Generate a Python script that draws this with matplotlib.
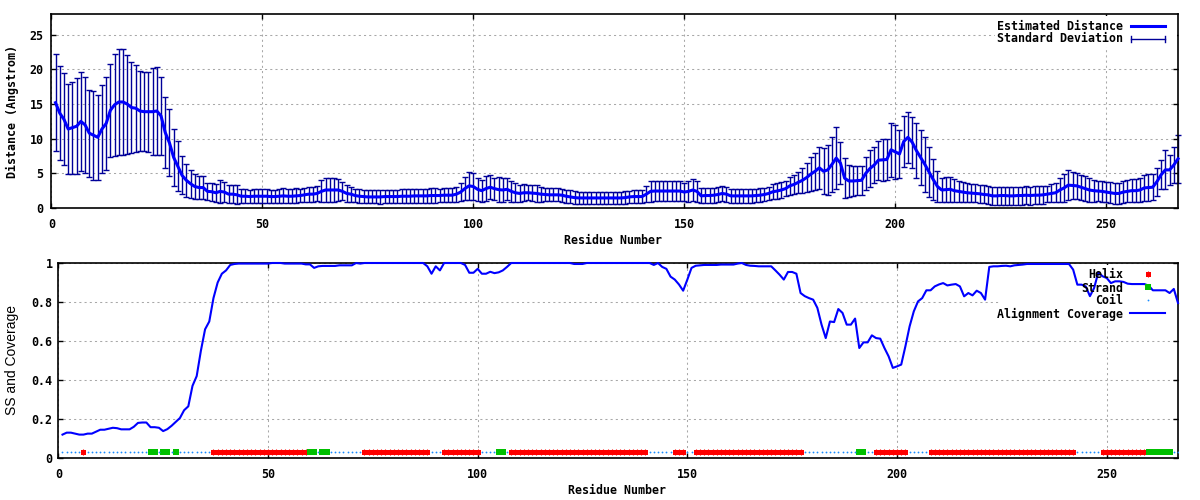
import matplotlib
matplotlib.use("Agg")
import matplotlib.pyplot as plt
from matplotlib.lines import Line2D
from matplotlib.patches import Rectangle

# Datos (residuo 1..267)
residuos = list(range(1, 268))

distancia = [
    15.2, 13.7, 12.8, 11.4, 11.6, 11.8, 12.5, 12.0, 10.8, 10.5,   # 1-10
    10.2, 11.4, 12.2, 14.1, 14.9, 15.3, 15.3, 15.0, 14.5, 14.4,   # 11-20
    14.0, 13.9, 13.9, 13.9, 14.0, 13.3, 10.9, 9.4, 7.3, 6.0,      # 21-30
    4.7, 4.0, 3.5, 3.1, 2.95, 2.95, 2.4, 2.35, 2.2, 2.4,          # 31-40
    2.3, 2.0, 2.0, 1.9, 1.7, 1.7, 1.65, 1.7, 1.7, 1.7,            # 41-50
    1.7, 1.65, 1.65, 1.7, 1.75, 1.7, 1.7, 1.75, 1.8, 1.9,         # 51-60
    2.0, 2.0, 2.1, 2.4, 2.6, 2.6, 2.6, 2.6, 2.4, 2.1,             # 61-70
    2.0, 1.8, 1.7, 1.65, 1.6, 1.6, 1.6, 1.6, 1.65, 1.65,          # 71-80
    1.65, 1.65, 1.7, 1.7, 1.7, 1.75, 1.75, 1.75, 1.75, 1.8,       # 81-90
    1.8, 1.8, 1.85, 1.85, 1.85, 2.0, 2.3, 2.8, 3.2, 3.1,          # 91-100
    2.7, 2.5, 2.8, 3.0, 2.8, 2.65, 2.6, 2.7, 2.4, 2.2,            # 101-110
    2.1, 2.2, 2.2, 2.15, 2.1, 2.0, 1.95, 1.9, 1.9, 1.9,           # 111-120
    1.85, 1.7, 1.6, 1.5, 1.45, 1.45, 1.45, 1.45, 1.45, 1.45,      # 121-130
    1.45, 1.45, 1.45, 1.45, 1.45, 1.5, 1.6, 1.65, 1.65, 1.65,     # 131-140
    2.0, 2.4, 2.45, 2.45, 2.45, 2.45, 2.45, 2.45, 2.45, 2.3,      # 141-150
    2.4, 2.6, 2.4, 1.75, 1.8, 1.8, 1.85, 1.95, 2.1, 2.0,          # 151-160
    1.75, 1.75, 1.75, 1.75, 1.75, 1.75, 1.8, 1.85, 1.95, 2.1,     # 161-170
    2.35, 2.45, 2.6, 2.8, 3.2, 3.4, 3.7, 4.0, 4.4, 4.9,           # 171-180
    5.3, 5.8, 5.3, 5.5, 6.3, 7.2, 6.5, 4.3, 3.9, 3.9,             # 181-190
    3.95, 4.0, 5.0, 5.7, 6.2, 6.9, 6.95, 7.0, 8.4, 8.1,           # 191-200
    7.8, 9.6, 10.2, 9.5, 8.3, 7.3, 6.3, 5.2, 4.1, 3.1,            # 201-210
    2.6, 2.65, 2.7, 2.5, 2.4, 2.3, 2.2, 2.15, 2.1, 2.05,          # 211-220
    1.95, 1.9, 1.75, 1.75, 1.8, 1.8, 1.75, 1.75, 1.8, 1.8,        # 221-230
    1.85, 1.8, 1.85, 1.85, 1.9, 2.0, 2.1, 2.2, 2.6, 2.9,          # 231-240
    3.3, 3.25, 3.2, 3.0, 2.8, 2.6, 2.5, 2.45, 2.4, 2.3,           # 241-250
    2.2, 2.1, 2.1, 2.3, 2.4, 2.5, 2.5, 2.6, 2.9, 2.95,            # 251-260
    3.0, 3.8, 4.8, 5.5, 5.5, 6.2, 7.1,                            # 261-267
]

desviacion = [
    7.0, 6.8, 6.65, 6.5, 6.65, 6.9, 7.2, 6.9, 6.3, 6.4,
    6.1, 6.35, 6.7, 6.7, 7.35, 7.6, 7.6, 7.15, 6.6, 6.3,
    5.8, 5.7, 5.75, 6.3, 6.35, 5.65, 5.15, 4.85, 4.15, 3.6,
    2.75, 2.4, 2.05, 1.8, 1.7, 1.7, 1.25, 1.3, 1.3, 1.7,
    1.5, 1.3, 1.3, 1.35, 1.05, 1.05, 1.0, 1.0, 1.0, 1.05,
    1.05, 1.0, 1.0, 1.05, 1.1, 1.05, 1.05, 1.1, 1.0, 1.0,
    1.1, 1.1, 1.1, 1.6, 1.7, 1.7, 1.7, 1.6, 1.3, 1.2,
    1.1, 1.0, 1.0, 1.0, 0.95, 0.95, 0.95, 1.0, 1.0, 1.0,
    1.0, 1.0, 1.0, 1.05, 1.05, 1.05, 1.0, 1.0, 1.05, 1.05,
    1.05, 1.0, 1.0, 1.05, 1.05, 1.1, 1.3, 1.7, 2.0, 1.9,
    1.7, 1.6, 1.8, 1.7, 1.6, 1.8, 1.7, 1.6, 1.5, 1.4,
    1.2, 1.2, 1.1, 1.2, 1.2, 1.1, 1.0, 0.95, 0.95, 0.95,
    0.95, 0.95, 0.95, 0.95, 0.9, 0.9, 0.9, 0.9, 0.9, 0.9,
    0.9, 0.9, 0.9, 0.9, 0.9, 0.9, 0.9, 0.9, 0.9, 0.9,
    1.2, 1.5, 1.5, 1.5, 1.5, 1.5, 1.5, 1.5, 1.5, 1.3,
    1.5, 1.6, 1.5, 1.1, 1.1, 1.1, 1.1, 1.1, 1.1, 1.1,
    1.0, 1.0, 1.0, 1.0, 1.0, 1.0, 1.0, 1.0, 1.0, 1.0,
    1.1, 1.1, 1.1, 1.1, 1.3, 1.4, 1.5, 1.8, 2.1, 2.5,
    2.7, 3.0, 3.3, 3.6, 4.0, 4.5, 3.0, 2.9, 2.3, 2.2,
    2.1, 2.1, 2.4, 2.6, 2.6, 2.8, 3.0, 3.0, 3.9, 3.9,
    3.5, 3.7, 3.7, 3.7, 3.9, 4.0, 4.0, 3.6, 2.9, 2.2,
    1.8, 1.8, 1.8, 1.7, 1.5, 1.4, 1.35, 1.3, 1.3, 1.3,
    1.3, 1.3, 1.3, 1.3, 1.3, 1.3, 1.3, 1.3, 1.3, 1.3,
    1.3, 1.3, 1.3, 1.3, 1.3, 1.2, 1.3, 1.4, 1.8, 2.0,
    2.2, 2.0, 1.9, 1.8, 1.8, 1.7, 1.6, 1.5, 1.5, 1.5,
    1.5, 1.5, 1.5, 1.6, 1.6, 1.7, 1.7, 1.8, 1.9, 1.9,
    1.9, 2.0, 2.1, 2.8, 2.2, 2.6, 3.5,
]

cobertura = [
    0.12, 0.13, 0.13, 0.125, 0.12, 0.12, 0.125, 0.125, 0.135, 0.145,
    0.145, 0.15, 0.155, 0.153, 0.147, 0.147, 0.147, 0.16, 0.18, 0.182,
    0.182, 0.158, 0.158, 0.155, 0.138, 0.148, 0.165, 0.185, 0.205, 0.245,
    0.265, 0.37, 0.42, 0.55, 0.66, 0.70, 0.82, 0.90, 0.945, 0.962,
    0.99, 0.995, 0.997, 0.997, 0.997, 0.997, 0.997, 0.997, 0.997, 0.997,
    1.0, 1.0, 1.0, 0.997, 0.997, 0.997, 0.997, 0.997, 0.993, 0.993,
    0.975, 0.983, 0.985, 0.985, 0.985, 0.985, 0.988, 0.988, 0.988, 0.988,
    1.0, 0.997, 1.0, 1.0, 1.0, 1.0, 1.0, 1.0, 1.0, 1.0,
    1.0, 1.0, 1.0, 1.0, 1.0, 1.0, 1.0, 0.983, 0.945, 0.983,
    0.962, 1.0, 1.0, 1.0, 1.0, 1.0, 0.99, 0.95, 0.95, 0.97,
    0.945, 0.945, 0.955, 0.948, 0.952, 0.962, 0.98, 1.0, 1.0, 1.0,
    1.0, 1.0, 1.0, 1.0, 1.0, 1.0, 1.0, 1.0, 1.0, 1.0,
    1.0, 1.0, 0.995, 0.995, 0.995, 1.0, 1.0, 1.0, 1.0, 1.0,
    1.0, 1.0, 1.0, 1.0, 1.0, 1.0, 1.0, 1.0, 1.0, 1.0,
    1.0, 0.99, 1.0, 0.98, 0.97, 0.93, 0.915, 0.89, 0.858, 0.915,
    0.975, 0.986, 0.988, 0.99, 0.99, 0.99, 0.99, 0.992, 0.992, 0.992,
    0.992, 0.997, 1.0, 0.99, 0.986, 0.985, 0.983, 0.983, 0.983, 0.983,
    0.962, 0.94, 0.915, 0.954, 0.954, 0.945, 0.846, 0.83, 0.82, 0.812,
    0.77, 0.684, 0.615, 0.70, 0.697, 0.764, 0.744, 0.684, 0.684, 0.715,
    0.564, 0.593, 0.593, 0.629, 0.615, 0.612, 0.564, 0.521, 0.462, 0.47,
    0.479, 0.573, 0.675, 0.752, 0.803, 0.82, 0.86, 0.86, 0.88, 0.89,
    0.897, 0.885, 0.889, 0.892, 0.88, 0.829, 0.846, 0.834, 0.858, 0.846,
    0.812, 0.98, 0.983, 0.983, 0.985, 0.986, 0.983, 0.988, 0.99, 0.992,
    0.995, 0.995, 0.995, 0.995, 0.995, 0.995, 0.995, 0.995, 0.995, 0.995,
    0.995, 0.966, 0.889, 0.889, 0.88, 0.83, 0.872, 0.952, 0.932, 0.923,
    0.897, 0.906, 0.906, 0.903, 0.894, 0.892, 0.892, 0.892, 0.892, 0.884,
    0.86, 0.86, 0.86, 0.86, 0.846, 0.867, 0.795,
]

# Estructura secundaria: tramos (inicio, fin) de hélice y hebra, el resto es coil
helices = [(6, 6), (37, 59), (73, 88), (92, 100), (108, 140), (147, 149),
           (152, 177), (195, 202), (208, 242), (249, 259)]
hebras = [(22, 23), (25, 26), (28, 28), (60, 61), (63, 64), (105, 106),
          (191, 192), (260, 265)]
nivel_ss = 0.03  # altura a la que se dibuja la pista SS

ticks_x = [0, 50, 100, 150, 200, 250]
ticks_y1 = [0, 5, 10, 15, 20, 25]
ticks_y2 = [0, 0.2, 0.4, 0.6, 0.8, 1]
etiquetas_y2 = ["0", "0.2", "0.4", "0.6", "0.8", "1"]

ss = ["C"] * len(residuos)
for ini, fin in helices:
    for r in range(ini, fin + 1):
        ss[r - 1] = "H"
for ini, fin in hebras:
    for r in range(ini, fin + 1):
        ss[r - 1] = "E"
x_h = [r for r, s in zip(residuos, ss) if s == "H"]
x_e = [r for r, s in zip(residuos, ss) if s == "E"]
x_c = [r for r, s in zip(residuos, ss) if s == "C"]

plt.rcParams["font.family"] = "DejaVu Sans Mono"
plt.rcParams["font.weight"] = "bold"
plt.rcParams["font.size"] = 8.4

W, H = 1200, 500
fx = lambda px: px / W
fy = lambda py: 1 - py / H

azul = "#0000ff"
azul_osc = "#000099"
rojo = "#ff0000"
verde = "#00c000"
celeste = "#1a8cff"
gris = "#a8a8a8"

fig = plt.figure(figsize=(12, 5), dpi=100)
ax1 = fig.add_axes([fx(51.3), fy(208), (1178 - 51.3) / W, 194 / H])
ax2 = fig.add_axes([fx(58.3), fy(458), (1178 - 58.3) / W, 195 / H])

for ax in (ax1, ax2):
    ax.set_axisbelow(True)
    ax.grid(True, color=gris, linestyle=(0, (2, 3)), linewidth=0.75)
    ax.tick_params(direction="in", top=True, right=True, length=3.6, width=1, labelsize=8.4)
    ax.tick_params(axis="x", pad=7)
    for s in ax.spines.values():
        s.set_linewidth(1.2)
    ax.set_xlim(0, 267)
    ax.set_xticks(ticks_x)

# Panel superior: distancia estimada y desviación
eb = ax1.errorbar(residuos, distancia, yerr=desviacion, fmt="none", ecolor=azul_osc,
                  elinewidth=1, capsize=2.2, capthick=1, zorder=2)
for art in list(eb[1]) + list(eb[2]):
    art.set_clip_on(False)
ax1.plot(residuos, distancia, color=azul, lw=2.2, zorder=3, clip_on=False)
ax1.set_ylim(0, 28)
ax1.set_yticks(ticks_y1)
ax1.tick_params(axis="y", pad=5.5)

# Panel inferior: SS y cobertura
ax2.plot(x_h, [nivel_ss] * len(x_h), ls="none", marker="s", ms=3.6, mew=0, color=rojo, zorder=3)
ax2.plot(x_h, [nivel_ss] * len(x_h), ls="none", marker="|", ms=4.8, mew=0.8, color=rojo, zorder=3)
ax2.plot(x_e, [nivel_ss] * len(x_e), ls="none", marker="s", ms=5.0, mew=0, color=verde, zorder=3)
ax2.plot(x_c, [nivel_ss] * len(x_c), ls="none", marker="o", ms=1.3, mew=0, color=celeste, zorder=3)
ax2.plot(residuos, cobertura, color=azul, lw=1.5, zorder=4, clip_on=False)
ax2.set_ylim(0, 1)
ax2.set_yticks(ticks_y2)
ax2.set_yticklabels(etiquetas_y2)
ax2.tick_params(axis="y", pad=4)

# Zonas de la leyenda que tapan la rejilla
ax1.add_patch(Rectangle((fx(995), fy(47)), fx(1177) - fx(995), fy(16) - fy(47),
                        transform=fig.transFigure, facecolor="white", edgecolor="none", zorder=1))
ax2.add_patch(Rectangle((fx(999), fy(322)), fx(1177) - fx(999), fy(265) - fy(322),
                        transform=fig.transFigure, facecolor="white", edgecolor="none", zorder=1))

# Leyenda superior
fig.text(fx(1123), fy(26), "Estimated Distance", ha="right", va="center")
fig.add_artist(Line2D([fx(1131), fx(1165)], [fy(26), fy(26)], transform=fig.transFigure, color=azul, lw=2.2))
fig.text(fx(1123), fy(39), "Standard Deviation", ha="right", va="center")
fig.add_artist(Line2D([fx(1131), fx(1165)], [fy(39), fy(39)], transform=fig.transFigure, color=azul_osc, lw=1))
for xc in (1131, 1165):
    fig.add_artist(Line2D([fx(xc), fx(xc)], [fy(36), fy(42)], transform=fig.transFigure, color=azul_osc, lw=1))

# Leyenda inferior
fig.text(fx(1123), fy(275), "Helix", ha="right", va="center")
fig.add_artist(Line2D([fx(1148)], [fy(274)], transform=fig.transFigure, ls="none", marker="s", ms=3.6, mew=0, color=rojo))
fig.add_artist(Line2D([fx(1148)], [fy(274)], transform=fig.transFigure, ls="none", marker="|", ms=4.8, mew=0.8, color=rojo))
fig.text(fx(1123), fy(288), "Strand", ha="right", va="center")
fig.add_artist(Line2D([fx(1148)], [fy(287)], transform=fig.transFigure, ls="none", marker="s", ms=5.0, mew=0, color=verde))
fig.text(fx(1123), fy(301), "Coil", ha="right", va="center")
fig.add_artist(Line2D([fx(1148)], [fy(300)], transform=fig.transFigure, ls="none", marker="o", ms=1.3, mew=0, color=celeste))
fig.text(fx(1123), fy(314), "Alignment Coverage", ha="right", va="center")
fig.add_artist(Line2D([fx(1130), fx(1165)], [fy(313), fy(313)], transform=fig.transFigure, color=azul, lw=1.5))

# Títulos de ejes
fig.text(fx(12), fy(111), "Distance (Angstrom)", rotation=90, ha="center", va="center")
fig.text(fx(613), fy(241), "Residue Number", ha="center", va="center")
fig.text(fx(12), fy(360), "SS and Coverage", rotation=90, ha="center", va="center",
         family="Liberation Sans", weight="normal", fontsize=10)
fig.text(fx(617), fy(491), "Residue Number", ha="center", va="center")

fig.savefig("out.png", dpi=100)
